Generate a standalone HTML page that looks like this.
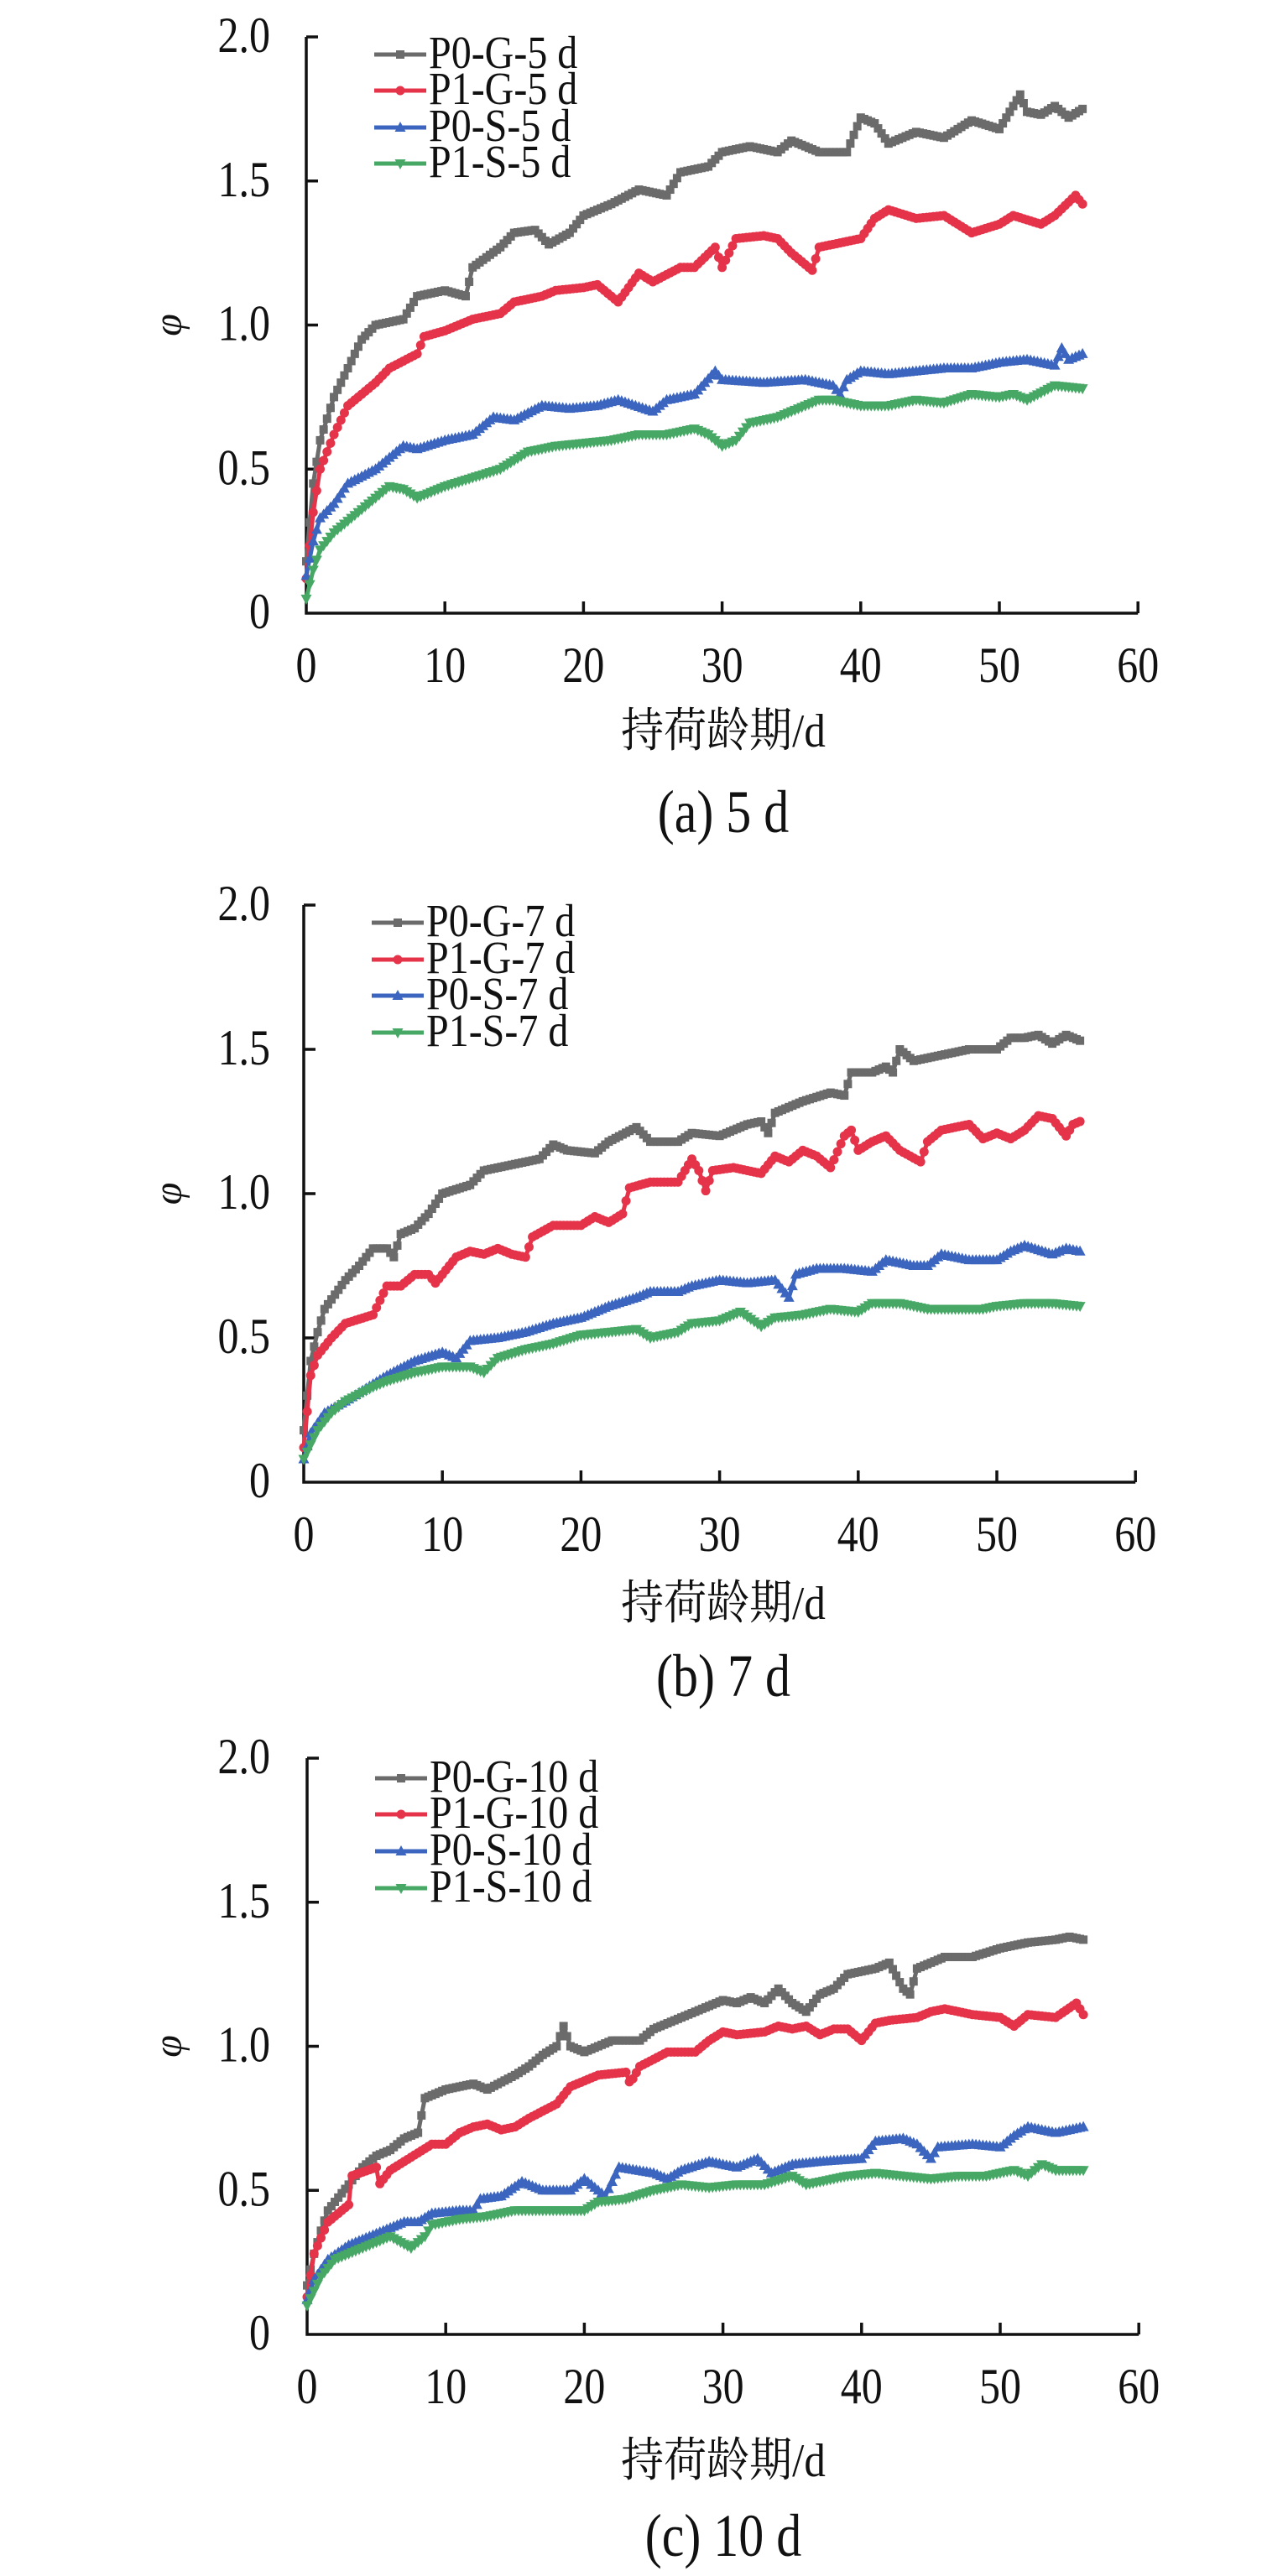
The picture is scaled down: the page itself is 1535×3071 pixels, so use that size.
<!DOCTYPE html>
<html><head><meta charset="utf-8"><style>
html,body{margin:0;padding:0;background:#fff;}
svg{display:block;}
text{font-family:"Liberation Serif","Noto Serif CJK SC",serif;fill:#111;}
</style></head><body>
<svg id="s" width="1535" height="3071" xmlns="http://www.w3.org/2000/svg"></svg>
<script>
const C={g:"#6b6b6b",r:"#e5334a",b:"#3b65bf",n:"#47a866"};
const charts=[
{x0:365,y0:731,top:44,leg:[65,108,152,195],lab:"5 d",cap:"(a) 5 d",tt:870,ct:970,
s:[
[[0,0.18],[0.5,0.45],[1,0.6],[2,0.75],[3,0.85],[4,0.95],[5,1.0],[7,1.02],[8,1.1],[10,1.12],[11.5,1.1],[12,1.2],[14,1.27],[15,1.32],[16.5,1.33],[17.5,1.28],[19,1.32],[20,1.38],[22,1.42],[24,1.47],[26,1.45],[27,1.53],[29,1.55],[30,1.6],[32,1.62],[34,1.6],[35,1.64],[37,1.6],[39,1.6],[40,1.72],[41,1.7],[42,1.63],[44,1.67],[46,1.65],[48,1.71],[50,1.68],[51.5,1.8],[52,1.74],[53,1.73],[54,1.76],[55,1.72],[56,1.75]],
[[0,0.12],[0.5,0.35],[1,0.5],[2,0.62],[3,0.72],[4,0.76],[5,0.8],[6,0.85],[8,0.9],[8.5,0.96],[10,0.98],[12,1.02],[14,1.04],[15,1.08],[17,1.1],[18,1.12],[20,1.13],[21,1.14],[22.5,1.08],[24,1.18],[25,1.15],[27,1.2],[28,1.2],[29.5,1.27],[30,1.2],[31,1.3],[33,1.31],[34,1.3],[35,1.25],[36.5,1.19],[37,1.27],[38,1.28],[40,1.3],[41,1.37],[42,1.4],[44,1.37],[46,1.38],[48,1.32],[50,1.35],[51,1.38],[53,1.35],[54,1.38],[55.5,1.45],[56,1.42]],
[[0,0.13],[0.5,0.25],[1,0.33],[2,0.38],[3,0.45],[5,0.5],[7,0.58],[8,0.57],[10,0.6],[12,0.62],[13.5,0.68],[15,0.67],[17,0.72],[19,0.71],[21,0.72],[22.5,0.74],[25,0.7],[26,0.74],[28,0.76],[29.5,0.84],[30,0.81],[33,0.8],[36,0.81],[38,0.79],[38.5,0.76],[39,0.81],[40,0.84],[42,0.83],[44,0.84],[46,0.85],[48,0.85],[50,0.87],[52,0.88],[54,0.86],[54.5,0.92],[55,0.88],[56,0.9]],
[[0,0.05],[0.5,0.15],[1,0.22],[2,0.28],[3,0.32],[4,0.36],[5,0.4],[6,0.44],[7,0.43],[8,0.4],[10,0.44],[12,0.47],[14,0.5],[16,0.56],[18,0.58],[20,0.59],[22,0.6],[24,0.62],[26,0.62],[28,0.64],[29,0.62],[30,0.58],[31,0.6],[32,0.66],[34,0.68],[36,0.72],[37,0.74],[38,0.74],[40,0.72],[42,0.72],[44,0.74],[46,0.73],[48,0.76],[50,0.75],[51,0.76],[52,0.74],[54,0.79],[56,0.78]]]},
{x0:362,y0:1767,top:1079,leg:[1100,1144,1187,1231],lab:"7 d",cap:"(b) 7 d",tt:1910,ct:2000,
s:[
[[0,0.18],[0.5,0.42],[1,0.52],[1.5,0.6],[3,0.7],[4,0.75],[5,0.81],[6,0.81],[6.5,0.78],[7,0.86],[8,0.88],[9,0.93],[10,1.0],[12,1.03],[13,1.08],[15,1.1],[17,1.12],[18,1.17],[19,1.15],[21,1.14],[22,1.18],[24,1.23],[25,1.18],[27,1.18],[28,1.21],[30,1.2],[32,1.24],[33,1.25],[33.5,1.21],[34,1.28],[36,1.32],[38,1.35],[39,1.34],[39.5,1.42],[41,1.42],[42,1.44],[42.5,1.42],[43,1.5],[44,1.46],[46,1.48],[48,1.5],[50,1.5],[51,1.54],[52,1.54],[53,1.55],[54,1.52],[55,1.55],[56,1.53]],
[[0,0.12],[0.5,0.37],[1,0.44],[2,0.5],[3,0.55],[5,0.58],[6,0.68],[7,0.68],[8,0.72],[9,0.72],[9.5,0.69],[11,0.78],[12,0.8],[13,0.79],[14,0.81],[15,0.79],[16,0.78],[16.5,0.85],[18,0.89],[20,0.89],[21,0.92],[22,0.9],[23,0.93],[23.5,1.02],[25,1.04],[27,1.04],[28,1.12],[28.5,1.08],[29,1.01],[29.5,1.08],[31,1.09],[33,1.07],[34,1.13],[35,1.11],[36,1.15],[37,1.13],[38,1.09],[39,1.2],[39.5,1.22],[40,1.15],[41,1.18],[42,1.2],[43,1.15],[44.5,1.11],[45,1.18],[46,1.22],[48,1.24],[49,1.19],[50,1.21],[51,1.19],[52,1.22],[53,1.27],[54,1.26],[55,1.2],[55.5,1.24],[56,1.25]],
[[0,0.08],[0.5,0.17],[1.5,0.24],[3,0.28],[5,0.34],[6,0.37],[8,0.42],[10,0.45],[11,0.43],[12,0.49],[14,0.5],[16,0.52],[18,0.55],[20,0.57],[22,0.61],[24,0.64],[25,0.66],[27,0.66],[28,0.68],[30,0.7],[32,0.69],[34,0.7],[35,0.64],[35.5,0.72],[37,0.74],[39,0.74],[41,0.73],[42,0.77],[44,0.75],[45,0.75],[46,0.79],[48,0.77],[50,0.77],[51,0.8],[52,0.82],[54,0.79],[55,0.81],[56,0.8]],
[[0,0.08],[1,0.18],[2,0.24],[3,0.28],[5,0.33],[6,0.35],[8,0.38],[10,0.4],[12,0.4],[13,0.38],[14,0.43],[16,0.46],[18,0.48],[20,0.51],[22,0.52],[24,0.53],[25,0.5],[27,0.52],[28,0.55],[30,0.56],[31.5,0.59],[33,0.54],[34,0.57],[36,0.58],[38,0.6],[40,0.59],[41,0.62],[43,0.62],[45,0.6],[47,0.6],[49,0.6],[50,0.61],[52,0.62],[54,0.62],[56,0.61]]]},
{x0:366,y0:2783,top:2096,leg:[2120,2163,2207,2251],lab:"10 d",cap:"(c) 10 d",tt:2932,ct:3025,
s:[
[[0,0.17],[0.5,0.28],[1,0.36],[1.5,0.43],[3,0.52],[4,0.58],[5,0.62],[6,0.64],[7,0.68],[8,0.7],[8.5,0.82],[10,0.85],[12,0.87],[13,0.85],[15,0.9],[16,0.93],[17,0.97],[18,1.0],[18.5,1.07],[19,1.0],[20,0.98],[22,1.02],[24,1.02],[25,1.06],[27,1.1],[29,1.14],[30,1.16],[31,1.15],[32,1.17],[33,1.15],[34,1.2],[35,1.15],[36,1.12],[37,1.18],[38,1.2],[39,1.25],[41,1.27],[42,1.29],[43,1.2],[43.5,1.18],[44,1.27],[46,1.31],[48,1.31],[50,1.34],[52,1.36],[54,1.37],[55,1.38],[56,1.37]],
[[0,0.13],[0.5,0.28],[1.5,0.39],[3,0.45],[3.2,0.55],[5,0.58],[5.2,0.52],[6,0.57],[8,0.63],[9,0.66],[10,0.66],[11,0.7],[12,0.72],[13,0.73],[14,0.71],[15,0.72],[16,0.75],[18,0.8],[19,0.86],[20,0.88],[21,0.9],[23,0.91],[23.3,0.87],[24,0.93],[26,0.98],[28,0.98],[29,1.02],[30,1.05],[31,1.04],[33,1.05],[34,1.07],[35,1.06],[36,1.07],[37,1.04],[38,1.06],[39,1.06],[40,1.02],[41,1.08],[42,1.09],[44,1.1],[45,1.12],[46,1.13],[48,1.11],[50,1.1],[51,1.07],[52,1.11],[54,1.1],[55.5,1.15],[56,1.11]],
[[0,0.12],[0.5,0.19],[1.5,0.26],[3,0.31],[5,0.35],[7,0.39],[8,0.39],[9,0.42],[11,0.43],[12,0.43],[12.5,0.47],[14,0.48],[15.5,0.53],[17,0.5],[19,0.5],[20,0.54],[21.5,0.48],[22.5,0.58],[25,0.56],[26,0.54],[27,0.57],[29,0.6],[31,0.58],[32.5,0.61],[33.5,0.56],[35,0.59],[37,0.6],[40,0.61],[41,0.67],[43,0.68],[44,0.66],[45,0.61],[45.5,0.65],[48,0.66],[50,0.65],[51,0.69],[52,0.72],[54,0.7],[56,0.72]],
[[0,0.1],[1,0.2],[2,0.26],[4,0.3],[6,0.34],[7.5,0.3],[8.5,0.34],[9,0.38],[11,0.4],[13,0.41],[15,0.43],[17,0.43],[20,0.43],[21,0.46],[23,0.47],[25,0.5],[27,0.52],[29,0.51],[31,0.52],[33,0.52],[35,0.55],[36,0.52],[37,0.53],[39,0.55],[41,0.56],[43,0.55],[45,0.54],[47,0.55],[49,0.55],[51,0.57],[52,0.55],[53,0.59],[54,0.57],[56,0.57]]]}
];
const names=["P0-G-","P1-G-","P0-S-","P1-S-"],cols=[C.g,C.r,C.b,C.n];
let o="";
function mk(k,x,y,c){
 if(k==0)return `<rect x="${x-5}" y="${y-5}" width="10" height="10" fill="${c}"/>`;
 if(k==1)return `<circle cx="${x}" cy="${y}" r="5.5" fill="${c}"/>`;
 if(k==2)return `<path d="M${x} ${y-7}L${x+6.5} ${y+5}L${x-6.5} ${y+5}Z" fill="${c}"/>`;
 return `<path d="M${x} ${y+7}L${x+6.5} ${y-5}L${x-6.5} ${y-5}Z" fill="${c}"/>`;
}
function interp(a,t){for(let i=0;i<a.length-1;i++){if(t<=a[i+1][0]){const f=(t-a[i][0])/(a[i+1][0]-a[i][0]);return a[i][1]+f*(a[i+1][1]-a[i][1]);}}return a[a.length-1][1];}
charts.forEach(ch=>{
 const xs=16.52, ys=(ch.y0-ch.top)/2;
 const X=d=>ch.x0+d*xs, Y=v=>ch.y0-v*ys;
 o+=`<path d="M${ch.x0} ${ch.top}V${ch.y0}H${X(60)}" fill="none" stroke="#111" stroke-width="3.5"/>`;
 for(let i=1;i<=4;i++){const y=Y(i*0.5);o+=`<line x1="${ch.x0}" y1="${y}" x2="${ch.x0+14}" y2="${y}" stroke="#111" stroke-width="3.5"/>`;}
 for(let i=1;i<=6;i++){const x=X(i*10);o+=`<line x1="${x}" y1="${ch.y0}" x2="${x}" y2="${ch.y0-14}" stroke="#111" stroke-width="3.5"/>`;}
 ["0","0.5","1.0","1.5","2.0"].forEach((t,i)=>{o+=`<text transform="translate(322 ${Y(i*0.5)+18}) scale(1,1.2)" font-size="50" text-anchor="end">${t}</text>`;});
 for(let i=0;i<=6;i++)o+=`<text transform="translate(${X(i*10)} ${ch.y0+82}) scale(1,1.2)" font-size="50" text-anchor="middle">${i*10}</text>`;
 o+=`<text transform="translate(216 ${(ch.top+ch.y0)/2}) rotate(-90)" font-size="48" font-style="italic" text-anchor="middle">φ</text>`;
 o+=`<text transform="translate(862 ${ch.tt+20}) scale(1,1.1)" font-size="51" text-anchor="middle">持荷龄期/d</text>`;
 o+=`<text transform="translate(862 ${ch.ct+22}) scale(1,1.2)" font-size="60" text-anchor="middle">${ch.cap}</text>`;
 ch.s.forEach((a,k)=>{
  let dense=[];for(let t=0;t<=56.001;t+=0.25)dense.push([t,interp(a,t)]);
  let merged=dense.concat(a.map(p=>[p[0],p[1]])).sort((p,q)=>p[0]-q[0]);
  o+=`<polyline points="${merged.map(p=>X(p[0]).toFixed(1)+","+Y(p[1]).toFixed(1)).join(" ")}" fill="none" stroke="${cols[k]}" stroke-width="5" stroke-linejoin="round"/>`;
  dense.forEach(p=>o+=mk(k,X(p[0]),Y(p[1]),cols[k]));
  const ly=ch.leg[k];
  o+=`<line x1="${ch.x0+81}" y1="${ly}" x2="${ch.x0+143}" y2="${ly}" stroke="${cols[k]}" stroke-width="5"/>`+mk(k,ch.x0+112,ly,cols[k]);
  o+=`<text transform="translate(${ch.x0+146} ${ly+16}) scale(1,1.15)" font-size="48">${names[k]}${ch.lab}</text>`;
 });
});
document.getElementById("s").innerHTML=o;
</script>
</body></html>
